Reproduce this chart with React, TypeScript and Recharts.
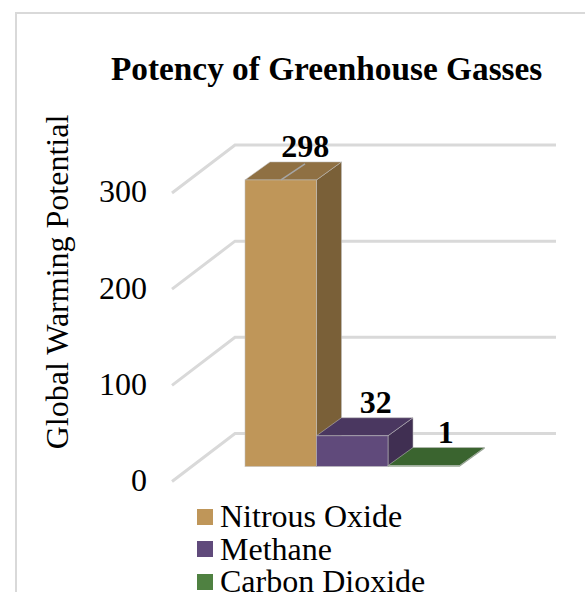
import { BarChart, Bar, XAxis, YAxis, CartesianGrid, Legend, LabelList } from 'recharts'

const CATEGORIES = ['Potency']
const NITROUS_OXIDE = [298]
const METHANE = [32]
const CARBON_DIOXIDE = [1]
const Y_TICKS = [0, 100, 200, 300]

const data = CATEGORIES.map((name, i) => ({
  name,
  nitrous: NITROUS_OXIDE[i],
  methane: METHANE[i],
  carbon: CARBON_DIOXIDE[i],
}))

const FONT = '"Liberation Serif", "Times New Roman", serif'
const GRID = '#d9d9d9'
// 3d look of the bars
const SHIFT_X = 20
const SHIFT_Y = -15
const DEPTH_X = 25
const DEPTH_Y = -18

function Box(props: any) {
  const { x, y, width, height, fill, topFill, sideFill, leader } = props
  const l = x + SHIFT_X
  const r = l + width
  const t = y + SHIFT_Y
  const b = t + height
  return (
    <g stroke='rgba(190,190,190,0.55)' strokeWidth={1}>
      <path d={`M${r},${t} L${r + DEPTH_X},${t + DEPTH_Y} L${r + DEPTH_X},${b + DEPTH_Y} L${r},${b} Z`} fill={sideFill} />
      <path d={`M${l},${t} L${l + DEPTH_X},${t + DEPTH_Y} L${r + DEPTH_X},${t + DEPTH_Y} L${r},${t} Z`} fill={topFill} />
      <rect x={l} y={t} width={width} height={height} fill={fill} />
      {leader && <line x1={l + 36} y1={t} x2={l + 60} y2={t - 16} stroke='#a6a6a6' strokeWidth={1.5} />}
    </g>
  )
}

function ValueLabel(props: any) {
  const { x, y, width, value, dx, dy } = props
  return (
    <text x={x + SHIFT_X + width / 2 + dx} y={y + dy} textAnchor='middle' fontFamily={FONT} fontSize={32} fontWeight='bold' fill='#000'>
      {value}
    </text>
  )
}

function GridLine(props: any) {
  const { x1, y1, x2 } = props
  return (
    <polyline
      points={`${x1},${y1} ${x1 + 63},${y1 - 48} ${x2 + 63},${y1 - 48}`}
      fill='none'
      stroke={GRID}
      strokeWidth={3}
    />
  )
}

export default function App() {
  return (
    <div style={{ position: 'absolute', left: 0, top: 0, width: 585, height: 592, overflow: 'hidden', background: '#fff' }}>
      {/* frame runs off the right and bottom of the picture */}
      <div
        style={{
          position: 'absolute',
          left: 15,
          top: 12,
          width: 620,
          height: 640,
          border: '2px solid #d9d9d9',
          boxSizing: 'content-box',
        }}
      />
      <div
        style={{
          position: 'absolute',
          left: 111,
          top: 49,
          fontFamily: FONT,
          fontSize: 33.3,
          fontWeight: 'bold',
          lineHeight: '40px',
          whiteSpace: 'nowrap',
        }}
      >
        Potency of Greenhouse Gasses
      </div>
      <BarChart
        width={585}
        height={592}
        data={data}
        barGap={0}
        barSize={71.5}
        margin={{ top: 193, right: 92, bottom: 13, left: 40 }}
        style={{ position: 'absolute', left: 0, top: 0 }}
      >
        <CartesianGrid vertical={false} horizontal={(p: any) => <GridLine key={p.y1} {...p} />} />
        <XAxis dataKey='name' hide />
        <YAxis
          width={132}
          domain={[0, 300]}
          ticks={Y_TICKS}
          axisLine={false}
          tickLine={false}
          tickMargin={19}
          tick={{ fontFamily: FONT, fontSize: 32, fill: '#000', dy: -2 }}
          label={{
            value: 'Global Warming Potential',
            angle: -90,
            position: 'insideLeft',
            dx: 12,
            dy: 112,
            style: { fontFamily: FONT, fontSize: 32, fill: '#000' },
          }}
        />
        <Legend
          layout='vertical'
          verticalAlign='bottom'
          iconType='square'
          iconSize={16}
          itemSorter={null}
          wrapperStyle={{ left: 197, top: 497, width: 360, fontFamily: FONT, fontSize: 32, lineHeight: '32.5px' }}
          formatter={(value: string) => (
            <span style={{ color: '#000', marginLeft: 3, position: 'relative', top: 3 }}>{value}</span>
          )}
        />
        <Bar
          dataKey='nitrous'
          name='Nitrous Oxide'
          fill='#bf9659'
          isAnimationActive={false}
          shape={(p: any) => <Box {...p} topFill='#8f7043' sideFill='#7a6038' leader />}
        >
          <LabelList dataKey='nitrous' content={(p: any) => <ValueLabel {...p} dx={24.5} dy={-38} />} />
        </Bar>
        <Bar
          dataKey='methane'
          name='Methane'
          fill='#604a7b'
          isAnimationActive={false}
          shape={(p: any) => <Box {...p} topFill='#4a3760' sideFill='#402f52' />}
        >
          <LabelList dataKey='methane' content={(p: any) => <ValueLabel {...p} dx={23.5} dy={-38} />} />
        </Bar>
        <Bar
          dataKey='carbon'
          name='Carbon Dioxide'
          fill='#4f8141'
          isAnimationActive={false}
          shape={(p: any) => <Box {...p} topFill='#3a642f' sideFill='#3a642f' />}
        >
          <LabelList dataKey='carbon' content={(p: any) => <ValueLabel {...p} dx={22} dy={-38} />} />
        </Bar>
      </BarChart>
    </div>
  )
}
